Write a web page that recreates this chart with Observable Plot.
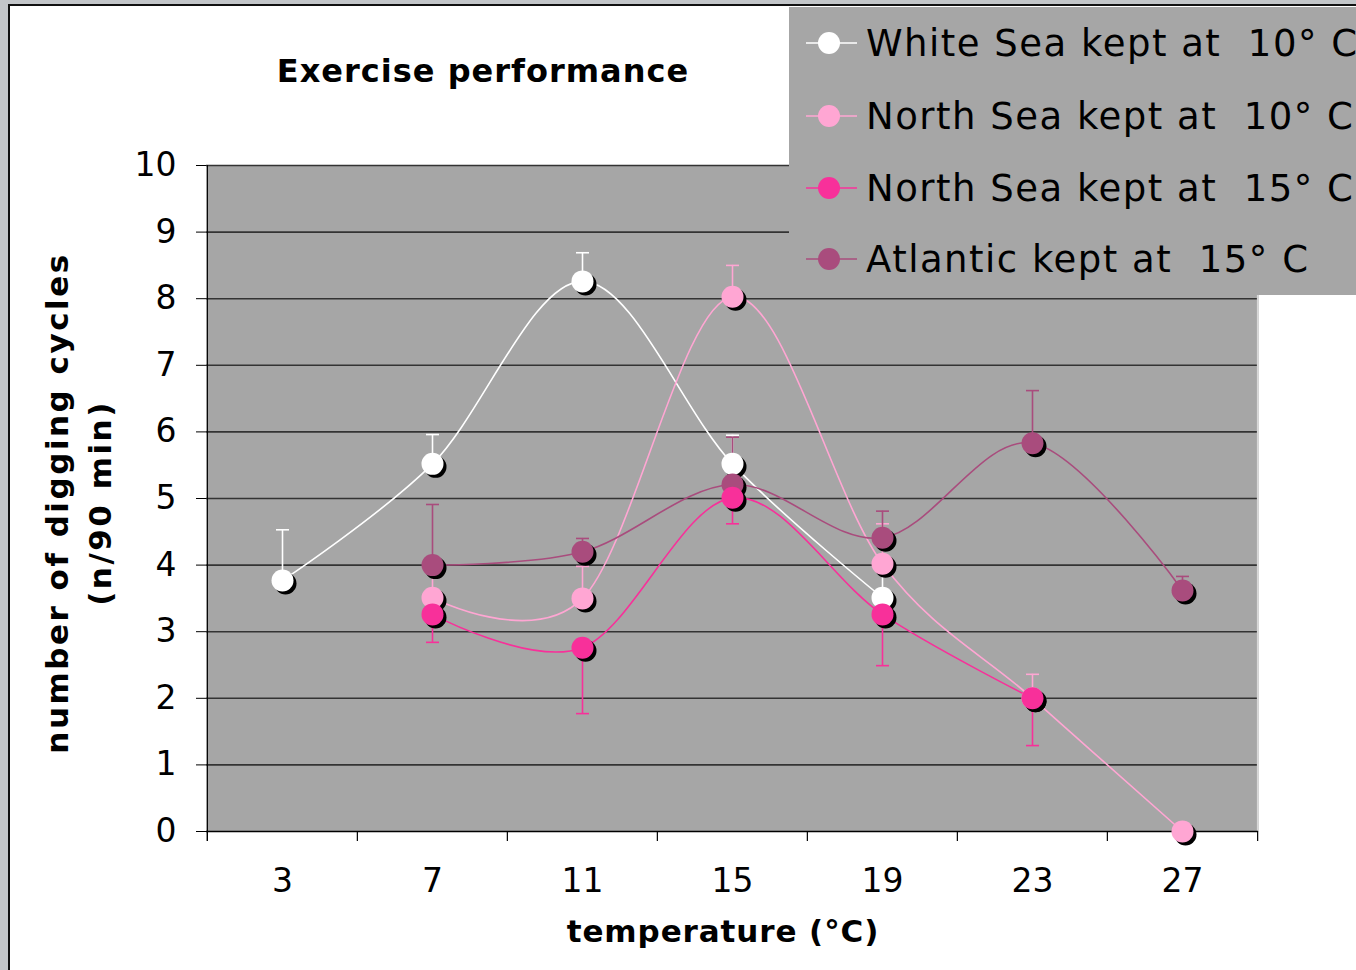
<!DOCTYPE html>
<html>
<head>
<meta charset="utf-8">
<script src="https://cdn.jsdelivr.net/npm/d3@7"></script>
<script src="https://cdn.jsdelivr.net/npm/@observablehq/plot@0.6"></script>
<style>
  html, body { margin: 0; padding: 0; width: 1356px; height: 970px; overflow: hidden; background: #c3c6c9; font-family: "DejaVu Sans", sans-serif; }
  #panel { position: absolute; left: 8px; top: 4px; width: 1360px; height: 980px; background: #fff; border-left: 2px solid #111; border-top: 2px solid #111; }
  #chart { position: absolute; left: 0; top: 0; }
  .t { position: absolute; white-space: pre; color: #000; line-height: 1; }
  #title { left: 183px; width: 600px; top: 55px; text-align: center; font-weight: bold; font-size: 32px; letter-spacing: 1px; }
  #xtitle { left: 423px; width: 600px; top: 916px; text-align: center; font-weight: bold; font-size: 31px; letter-spacing: 0.9px; }
  #ytitle { left: 79px; top: 503px; transform: translate(-50%, -50%) rotate(-90deg); text-align: center; font-weight: bold; font-size: 31px; line-height: 43px; letter-spacing: 2.5px; }
  #legend { position: absolute; left: 789px; top: 7px; width: 600px; height: 288px; background: #a6a6a6; }
  .row { position: absolute; left: 0; height: 40px; }
  .row svg { position: absolute; left: 0; top: 0; }
  .row span { position: absolute; left: 77px; top: 2px; font-size: 37px; line-height: 1; white-space: pre; color: #000; letter-spacing: 1.5px; }
</style>
</head>
<body>
<div id="panel"></div>
<div id="chart"></div>
<div id="title" class="t"></div>
<div id="xtitle" class="t"></div>
<div id="ytitle" class="t"></div>
<div id="legend"></div>
<script>
// ---- data ----
const titleText = "Exercise performance";
const xTitle = "temperature (°C)";
const yTitleLines = ["number of digging cycles", "(n/90 min)"];
const temps = ["3", "7", "11", "15", "19", "23", "27"];
const yTicks = [0, 1, 2, 3, 4, 5, 6, 7, 8, 9, 10];

const seriesNames = ["White Sea kept at  10° C", "North Sea kept at  10° C", "North Sea kept at  15° C", "Atlantic kept at  15° C"];
const seriesColors = ["#ffffff", "#ffa6d3", "#f8309a", "#a94c7d"];

const whiteSea10 = [3.77, 5.52, 8.26, 5.52, 3.51, null, null];
const northSea10 = [null, 3.51, 3.50, 8.03, 4.02, 2.00, 0.00];
const northSea15 = [null, 3.26, 2.76, 5.01, 3.26, 2.00, null];
const atlantic15 = [null, 4.00, 4.20, 5.21, 4.41, 5.83, 3.62];

// error bar end values (upper or lower whisker end)
const whiteSea10Err = [4.53, 5.96, 8.69, 5.95, 4.00, null, null];
const northSea10Err = [null, 3.95, 3.98, 8.50, 4.62, 2.36, null];
const northSea15Err = [null, 2.84, 1.77, 4.62, 2.49, 1.29, null];
const atlantic15Err = [null, 4.91, 4.40, 5.92, 4.81, 6.62, 3.83];

const seriesValues = [whiteSea10, northSea10, northSea15, atlantic15];
const seriesErrors = [whiteSea10Err, northSea10Err, northSea15Err, atlantic15Err];
// drawing order of markers (last on top)
const drawOrder = [0, 1, 3, 2];

// ---- build tables ----
const points = [];
const errs = [];
seriesNames.forEach((name, s) => {
  temps.forEach((t, i) => {
    const v = seriesValues[s][i];
    if (v != null) points.push({series: s, temp: t, value: v});
    const e = seriesErrors[s][i];
    if (v != null && e != null) errs.push({series: s, temp: t, value: v, end: e});
  });
});

// ---- chart ----
const W = 1356, H = 970;
const mL = 206, mR = 98, mT = 165, mB = 139;
const step = (W - mL - mR) / temps.length;
const capSymbol = {draw(ctx, size) { const r = Math.sqrt(size / Math.PI); ctx.moveTo(-r, 0); ctx.lineTo(r, 0); }};

const marks = [
  Plot.frame({fill: "#a6a6a6", stroke: "none"}),
  Plot.ruleY(yTicks.filter(d => d > 0), {stroke: "#333", strokeWidth: 1.6}),
  Plot.ruleX([temps[temps.length - 1]], {dx: step / 2, y1: 0, y2: 10, stroke: "#d8d8d8", strokeWidth: 1.5}),
  // category boundary ticks
  Plot.ruleX(temps, {x: d => d, dx: -step / 2, y1: 0, y2: -0.15, stroke: "#000", strokeWidth: 1.2}),
  Plot.ruleX([temps[temps.length - 1]], {dx: step / 2, y1: 0, y2: -0.15, stroke: "#000", strokeWidth: 1.2}),
  // y axis line
  Plot.ruleX([temps[0]], {dx: -step / 2, y1: -0.15, y2: 10, stroke: "#000", strokeWidth: 1.2}),
  Plot.ruleY([0], {stroke: "#000", strokeWidth: 1.5}),
  Plot.axisY({ticks: yTicks, tickSize: 10, tickPadding: 20, fontSize: 33, label: null, stroke: "#000"}),
  Plot.axisX({tickSize: 0, tickPadding: 37, fontSize: 33, label: null})
];

drawOrder.forEach(s => {
  marks.push(Plot.line(points.filter(d => d.series === s), {x: "temp", y: "value", stroke: seriesColors[s], strokeWidth: 1.6, curve: "cardinal"}));
});
drawOrder.forEach(s => {
  const e = errs.filter(d => d.series === s);
  marks.push(Plot.ruleX(e, {x: "temp", y1: "value", y2: "end", stroke: seriesColors[s], strokeWidth: 1.6}));
  marks.push(Plot.dot(e, {x: "temp", y: "end", symbol: capSymbol, r: 6.5, stroke: seriesColors[s], fill: "none", strokeWidth: 1.6}));
});
drawOrder.forEach(s => {
  const p = points.filter(d => d.series === s);
  marks.push(Plot.dot(p, {x: "temp", y: "value", r: 11, fill: "#000", stroke: "none", dx: 3, dy: 3}));
  marks.push(Plot.dot(p, {x: "temp", y: "value", r: 11, fill: seriesColors[s], stroke: "none"}));
});

const chart = Plot.plot({
  width: W, height: H,
  marginLeft: mL, marginRight: mR, marginTop: mT, marginBottom: mB,
  style: {background: "transparent", fontFamily: "DejaVu Sans", color: "#000", overflow: "visible"},
  x: {type: "point", domain: temps, padding: 0.5, align: 0.5},
  y: {domain: [0, 10]},
  marks
});
document.getElementById("chart").append(chart);

// ---- titles ----
document.getElementById("title").textContent = titleText;
document.getElementById("xtitle").textContent = xTitle;
document.getElementById("ytitle").textContent = yTitleLines.join("\n");

// ---- legend ----
const legend = document.getElementById("legend");
const rowCenters = [36, 109, 181, 252];
seriesNames.forEach((name, s) => {
  const row = document.createElement("div");
  row.className = "row";
  row.style.top = (rowCenters[s] - 20) + "px";
  row.style.width = "600px";
  const ns = "http://www.w3.org/2000/svg";
  const svg = document.createElementNS(ns, "svg");
  svg.setAttribute("width", 76); svg.setAttribute("height", 40);
  const ln = document.createElementNS(ns, "line");
  ln.setAttribute("x1", 17); ln.setAttribute("x2", 68); ln.setAttribute("y1", 20); ln.setAttribute("y2", 20);
  ln.setAttribute("stroke", seriesColors[s]); ln.setAttribute("stroke-width", 1.6);
  const c = document.createElementNS(ns, "circle");
  c.setAttribute("cx", 40); c.setAttribute("cy", 20); c.setAttribute("r", 11); c.setAttribute("fill", seriesColors[s]);
  svg.append(ln, c);
  const sp = document.createElement("span");
  sp.textContent = name;
  row.append(svg, sp);
  legend.append(row);
});
</script>
</body>
</html>
